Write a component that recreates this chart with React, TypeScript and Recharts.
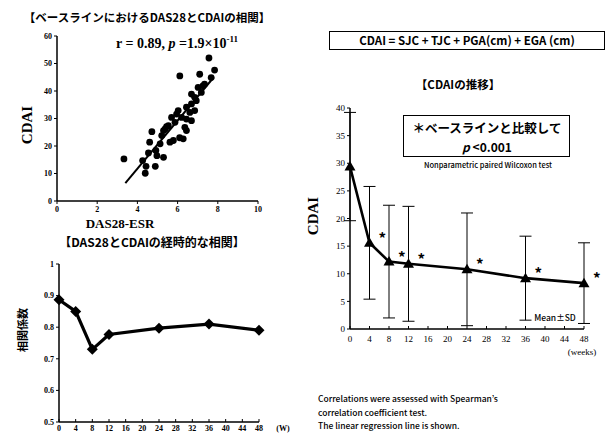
import React from 'react';
import { ScatterChart, Scatter, XAxis, YAxis, ReferenceLine, LineChart, Line, ErrorBar, LabelList } from 'recharts';

// Baseline DAS28-ESR vs CDAI
const das28Values = [3.33, 4.26, 4.43, 4.39, 4.89, 5.3, 4.61, 4.72, 4.92, 4.97, 5.3, 5.38, 5.54, 5.62, 5.79, 5.87, 5.95, 6.03, 6.2, 6.28, 6.11, 6.36, 6.44, 6.44, 6.61, 6.69, 6.69, 6.85, 6.93, 7.02, 7.18, 7.26, 7.1, 7.34, 7.67, 7.84, 7.56, 6.44, 6.69, 5.7, 5.21, 5.13, 6.85, 6.1, 5.45, 4.55];
const cdaiBaselineValues = [15.3, 14.7, 12.6, 10.1, 12.6, 15.9, 21.4, 25.2, 18.4, 16.5, 25.6, 26.2, 27.4, 21.4, 22.0, 28.6, 31.6, 32.9, 30.4, 22.6, 45.5, 26.8, 25.6, 34.1, 32.2, 35.3, 38.9, 37.7, 36.5, 41.3, 39.5, 41.9, 46.1, 42.5, 44.9, 47.6, 52.0, 29.8, 29.2, 30.4, 23.8, 20.8, 32.9, 23.0, 27.0, 17.5];
const regressionEnds = [{ x: 3.4, y: 6.5 }, { x: 7.8, y: 45 }];
const scatterXTicks = [0, 2, 4, 6, 8, 10];
const scatterYTicks = [0, 10, 20, 30, 40, 50, 60];

// Correlation over time
const corrWeeks = [0, 4, 8, 12, 24, 36, 48];
const corrValues = [0.887, 0.85, 0.73, 0.777, 0.797, 0.81, 0.79];
const corrYTicks = [0.5, 0.6, 0.7, 0.8, 0.9, 1];

// CDAI over time
const cdaiWeeks = [0, 4, 8, 12, 24, 36, 48];
const cdaiMeans = [29.4, 15.6, 12.2, 11.8, 10.8, 9.2, 8.3];
const cdaiSD = [9.8, 10.2, 10.2, 10.4, 10.2, 7.6, 7.3];
const sigMarks = ['', '*', '*', '*', '*', '*', '*'];
const cdaiYTicks = [0, 5, 10, 15, 20, 25, 30, 35, 40];
const weekTicks = [0, 4, 8, 12, 16, 20, 24, 28, 32, 36, 40, 44, 48];

const scatterData = das28Values.map((x, i) => ({ x, y: cdaiBaselineValues[i] }));
const corrData = corrWeeks.map((w, i) => ({ w, r: corrValues[i] }));
const cdaiData = cdaiWeeks.map((w, i) => ({ w, m: cdaiMeans[i], sd: cdaiSD[i], sig: sigMarks[i] }));

const SERIF = '"Liberation Serif", "DejaVu Serif", serif';
const SANS = '"Noto Sans CJK JP", "Noto Sans", sans-serif';

const T = ({ x, y, size, children, family = SANS, weight = 700, rotate = 0, align = 'center', style = {} }: any) => (
  <div
    style={{
      position: 'absolute',
      left: x,
      top: y,
      fontSize: size,
      fontFamily: family,
      fontWeight: weight,
      whiteSpace: 'nowrap',
      lineHeight: 1,
      color: '#000',
      transform: `translate(${align === 'left' ? '0' : '-50%'}, -50%) rotate(${rotate}deg)`,
      ...style,
    }}
  >
    {children}
  </div>
);

const axisStyle = { stroke: '#000', strokeWidth: 1.5 };
const serifTick = { fill: '#000', fontSize: 8, fontFamily: SERIF, fontWeight: 700 };

const Diamond = (p: any) => {
  const { cx, cy, index } = p;
  return <path key={`d${index}`} d={`M${cx},${cy - 5.5}L${cx + 5.5},${cy}L${cx},${cy + 5.5}L${cx - 5.5},${cy}Z`} fill="#000" />;
};

const Triangle = (p: any) => {
  const { cx, cy, index } = p;
  return <path key={`t${index}`} d={`M${cx},${cy - 5.5}L${cx + 5.5},${cy + 4}L${cx - 5.5},${cy + 4}Z`} fill="#000" />;
};

const Star = (p: any) => {
  const { x, y, value, index } = p;
  if (!value) return null;
  return (
    <text key={`s${index}`} x={x + 9} y={y + 1} fontSize={15} fontWeight={700} fontFamily={SANS} fill="#000">
      {value}
    </text>
  );
};

export default function App() {
  return (
    <div style={{ position: 'absolute', left: 0, top: 0, width: 615, height: 437, background: '#fff', overflow: 'hidden' }}>
      {/* Scatter chart */}
      <div style={{ position: 'absolute', left: 0, top: 0 }}>
        <ScatterChart width={290} height={230} margin={{ top: 36, right: 32, bottom: 9, left: 0 }}>
          <XAxis type="number" dataKey="x" domain={[0, 10]} ticks={scatterXTicks} axisLine={axisStyle} tickLine={{ stroke: '#000' }} tickSize={3} tick={serifTick} height={20} />
          <YAxis type="number" dataKey="y" domain={[0, 60]} ticks={scatterYTicks} axisLine={axisStyle} tickLine={{ stroke: '#000' }} tickSize={3} tick={serifTick} width={57} />
          <ReferenceLine segment={regressionEnds} stroke="#000" strokeWidth={2} ifOverflow="visible" />
          <Scatter data={scatterData} isAnimationActive={false} shape={(p: any) => <circle cx={p.cx} cy={p.cy} r={3.4} fill="#000" />} />
        </ScatterChart>
      </div>

      {/* Correlation over time */}
      <div style={{ position: 'absolute', left: 0, top: 250 }}>
        <LineChart width={290} height={187} data={corrData} margin={{ top: 14, right: 31, bottom: 0, left: 0 }}>
          <XAxis type="number" dataKey="w" domain={[0, 48]} ticks={weekTicks} axisLine={axisStyle} tickLine={{ stroke: '#000' }} tickSize={-3} tickMargin={6} tick={serifTick} height={15} interval={0} />
          <YAxis type="number" domain={[0.5, 1]} ticks={corrYTicks} axisLine={axisStyle} tickLine={{ stroke: '#000' }} tickSize={3} tick={serifTick} width={59} />
          <Line dataKey="r" stroke="#000" strokeWidth={3.2} dot={Diamond} isAnimationActive={false} />
        </LineChart>
      </div>

      {/* CDAI over time */}
      <div style={{ position: 'absolute', left: 300, top: 90 }}>
        <LineChart width={315} height={270} data={cdaiData} margin={{ top: 18, right: 31, bottom: 11, left: 0 }}>
          <XAxis type="number" dataKey="w" domain={[0, 48]} ticks={weekTicks} interval={0} axisLine={axisStyle} tickLine={{ stroke: '#000' }} tickSize={-3} tickMargin={10} tick={{ fill: '#000', fontSize: 9, fontFamily: SERIF }} height={20} />
          <YAxis type="number" domain={[0, 40]} ticks={cdaiYTicks} axisLine={axisStyle} tickLine={{ stroke: '#000' }} tickSize={3} tick={{ fill: '#000', fontSize: 9, fontFamily: SERIF }} width={50} />
          <Line dataKey="m" stroke="#000" strokeWidth={2.6} dot={Triangle} isAnimationActive={false}>
            <ErrorBar dataKey="sd" width={6} stroke="#000" strokeWidth={1} direction="y" />
            <LabelList dataKey="sig" content={Star} />
          </Line>
        </LineChart>
      </div>

      {/* Texts */}
      <T x={147} y={18} size={11.5}>【ベースラインにおけるDAS28とCDAIの相関】</T>
      <T x={177} y={43} size={14} family={SERIF}>
        r = 0.89, <i>p</i> =1.9×10<sup style={{ fontSize: 9 }}>-11</sup>
      </T>
      <T x={27} y={125} size={15} family={SERIF} rotate={-90}>CDAI</T>
      <T x={120} y={223} size={13} family={SERIF}>DAS28-ESR</T>
      <T x={152} y={242} size={12}>【DAS28とCDAIの経時的な相関】</T>
      <T x={22} y={330} size={11} rotate={-90}>相関係数</T>
      <T x={283} y={429} size={8} family={SERIF}>(W)</T>

      <div style={{ position: 'absolute', left: 329, top: 31, width: 276, height: 19, border: '1.2px solid #000', boxSizing: 'border-box' }} />
      <T x={467} y={41} size={11.5}>CDAI = SJC + TJC + PGA(cm) + EGA (cm)</T>
      <T x={458} y={85} size={11.5}>【CDAIの推移】</T>

      <div style={{ position: 'absolute', left: 403, top: 115, width: 167, height: 42, border: '1.2px solid #000', boxSizing: 'border-box' }} />
      <T x={487} y={128} size={12.5}>＊ベースラインと比較して</T>
      <T x={487} y={147} size={12}><i>p</i> &lt;0.001</T>
      <T x={488} y={165} size={7.5} weight={500}>Nonparametric paired Wilcoxon test</T>

      <T x={313} y={216} size={15} family={SERIF} rotate={-90}>CDAI</T>
      <T x={555} y={317} size={8.5} weight={500}>Mean±SD</T>
      <T x={582} y={352} size={9} family={SERIF} weight={400}>(weeks)</T>

      <T x={318} y={398} size={8.5} weight={500} align="left">Correlations were assessed with Spearman&#8217;s</T>
      <T x={318} y={412} size={8.5} weight={500} align="left">correlation coefficient test.</T>
      <T x={318} y={425} size={8.5} weight={500} align="left">The linear regression line is shown.</T>
    </div>
  );
}
